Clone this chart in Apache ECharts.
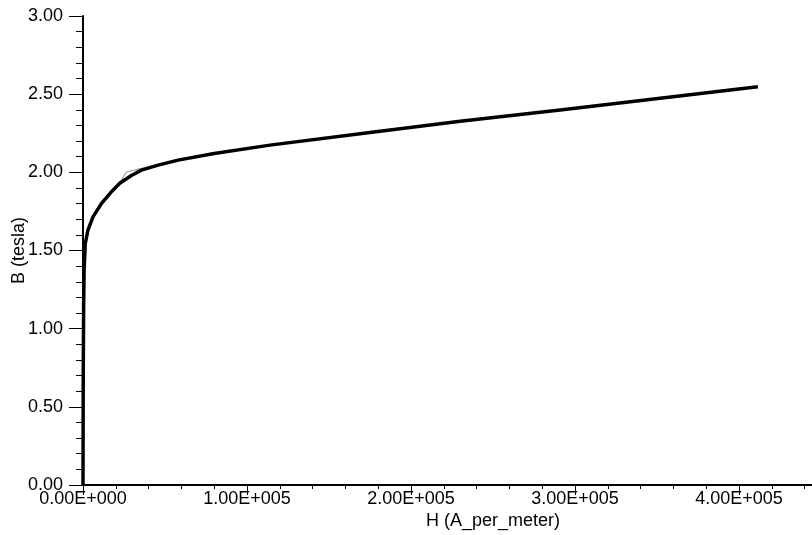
<!DOCTYPE html>
<html>
<head>
<meta charset="utf-8">
<script src="https://cdn.jsdelivr.net/npm/echarts@6/dist/echarts.min.js"></script>
<style>
html,body{margin:0;padding:0;background:#fff;}
#chart{width:812px;height:535px;}
</style>
</head>
<body>
<div id="chart"></div>
<script>
// H (A/m) and B (tesla) values
var fitH = [0, 150, 400, 700, 1400, 3000, 6100, 11200, 17300, 22400, 29500, 35600, 45800, 58000, 80000, 114000, 175000, 230000, 291000, 411500];
var fitB = [0, 0.7, 1.15, 1.38, 1.545, 1.63, 1.715, 1.80, 1.875, 1.93, 1.98, 2.014, 2.046, 2.078, 2.12, 2.174, 2.255, 2.327, 2.398, 2.547];
var rawH = [0, 150, 400, 700, 1400, 3000, 6100, 11200, 17300, 22400, 26500, 33600, 45800, 58000, 80000, 114000, 175000, 230000, 291000, 411500];
var rawB = [0, 0.7, 1.15, 1.38, 1.545, 1.63, 1.715, 1.80, 1.875, 1.935, 2.003, 2.02, 2.05, 2.083, 2.125, 2.174, 2.255, 2.327, 2.398, 2.547];
var yTicks = [0, 0.5, 1.0, 1.5, 2.0, 2.5, 3.0];

function pairs(xs, ys){ return xs.map(function(x,i){ return [x, ys[i]]; }); }
function sci(v){
  if (v === 0) return '0.00E+000';
  var e = Math.floor(Math.log10(Math.abs(v)) + 1e-9);
  var m = v / Math.pow(10, e);
  var es = String(Math.abs(e)); while (es.length < 3) es = '0' + es;
  return m.toFixed(2) + 'E' + (e < 0 ? '-' : '+') + es;
}

var FONT = '"Liberation Sans", Arial, sans-serif';
var chart = echarts.init(document.getElementById('chart'));
chart.setOption({
  animation: false,
  backgroundColor: '#fff',
  grid: {left: 83, top: 16, right: -91, bottom: 50, containLabel: false, outerBoundsMode: 'none'},
  xAxis: [{
    type: 'value', min: 0, max: 500000, interval: 100000,
    name: 'H (A_per_meter)', nameLocation: 'middle', nameGap: 27, nameMoveOverlap: false,
    nameTextStyle: {color: '#000', fontSize: 18, fontFamily: FONT},
    axisLine: {show: true, onZero: false, lineStyle: {color: '#000', width: 2}},
    axisTick: {show: true, length: 10, lineStyle: {color: '#000', width: 1}},
    minorTick: {show: true, splitNumber: 5, length: 4, lineStyle: {color: '#000', width: 1}},
    axisLabel: {color: '#000', fontSize: 18, fontFamily: FONT, margin: 5, showMaxLabel: false,
      formatter: function(v){ return sci(v); }},
    splitLine: {show: false}
  }, {
    type: 'value', min: 0, max: 500000, position: 'top',
    axisLine: {show: true, lineStyle: {color: '#000', width: 1.5}},
    axisTick: {show: false}, axisLabel: {show: false}, splitLine: {show: false}
  }],
  yAxis: {
    type: 'value', min: yTicks[0], max: yTicks[yTicks.length-1], interval: 0.5,
    name: 'B (tesla)', nameLocation: 'middle', nameGap: 55, nameMoveOverlap: false,
    nameTextStyle: {color: '#000', fontSize: 18, fontFamily: FONT},
    axisLine: {show: true, onZero: false, lineStyle: {color: '#000', width: 2}},
    axisTick: {show: true, length: 14, lineStyle: {color: '#000', width: 1}},
    minorTick: {show: true, splitNumber: 5, length: 7, lineStyle: {color: '#000', width: 1}},
    axisLabel: {color: '#000', fontSize: 18, fontFamily: FONT, margin: 20,
      formatter: function(v){ return v.toFixed(2); }},
    splitLine: {show: false}
  },
  series: [{
    type: 'line', data: pairs(rawH, rawB), showSymbol: false, smooth: false,
    lineStyle: {color: '#8a8a8a', width: 1}, z: 2
  }, {
    type: 'line', data: pairs(fitH, fitB), showSymbol: false, smooth: false,
    lineStyle: {color: '#000', width: 3.5, join: 'round'}, z: 3
  }]
});
</script>
</body>
</html>
